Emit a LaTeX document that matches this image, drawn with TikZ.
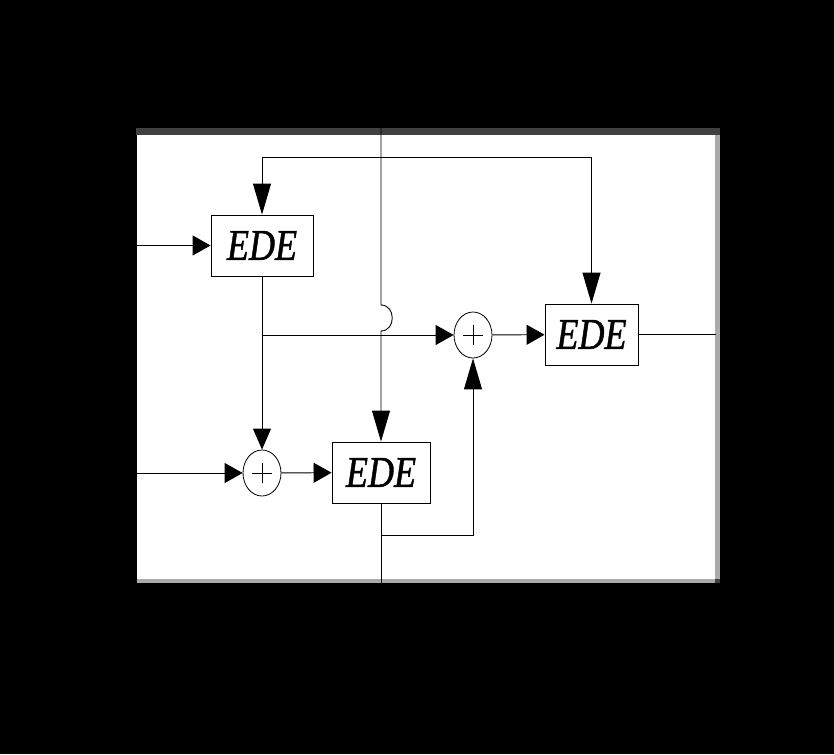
\documentclass[tikz,border=0pt]{standalone}
\usepackage{fontspec}
\newfontfamily\edefont[FakeBold=1.2]{Liberation Serif Italic}
\usetikzlibrary{arrows.meta,shapes.geometric}
\definecolor{topband}{HTML}{404040}
\definecolor{sideband}{HTML}{AAAAAA}
\newcommand{\edetext}{\scalebox{0.82}[1]{\fontsize{44}{44}\edefont EDE}}
\begin{document}
\begin{tikzpicture}[x=1pt,y=-1pt,
  ln/.style={line width=0.9pt},
  vtip/.style={-{Triangle[length=31pt,width=18pt]}},
  htip/.style={-{Triangle[length=18pt,width=20pt]}},
  ede/.style={draw,line width=0.9pt,minimum height=61pt,inner sep=0pt},
  sumnode/.style={draw,ellipse,line width=0.8pt,minimum width=38pt,
    minimum height=46pt,inner sep=0pt},
  plusmark/.style={line width=0.9pt}]
\fill[black] (0,0) rectangle (834,754);
\useasboundingbox (0,0) rectangle (834,754);
\fill[white] (137,135) rectangle (716,579);
\fill[topband] (136,128) rectangle (720,135);
\fill[sideband] (715,135) rectangle (720,583);
\fill[sideband] (137,579) rectangle (720,583);
\fill[topband] (715,579) rectangle (720,583);

\node[ede,minimum width=102pt] (e1) at (262,245.5) {\edetext};
\node[ede,minimum width=98pt] (e2) at (381,472.5) {\edetext};
\node[ede,minimum width=93pt] (e3) at (591.5,334.5) {\edetext};
\node[sumnode] (s1) at (262,473) {};
\node[sumnode] (s2) at (473,335) {};
\draw[plusmark] ([xshift=-10pt]s1.center) -- ([xshift=10pt]s1.center);
\draw[plusmark] ([yshift=-10pt]s1.center) -- ([yshift=10pt]s1.center);
\draw[plusmark] ([xshift=-10pt]s2.center) -- ([xshift=10pt]s2.center);
\draw[plusmark] ([yshift=-10pt]s2.center) -- ([yshift=10pt]s2.center);

\coordinate (in1) at (137,245.5);
\coordinate (in2) at (137,473);
\coordinate (out) at (716,334.5);
\coordinate (topv) at (381,128);
\coordinate (botv) at (381,583);
\coordinate (fbL) at (262,157);
\coordinate (fbR) at (591.5,157);
\coordinate (j1) at (262,335);
\coordinate (j2) at (381,535);
\coordinate (j3) at (473,535);
\coordinate (hopA) at (381,305);
\coordinate (hopB) at (381,331);

\draw[ln,htip] (in1) -- (e1);
\draw[ln,htip] (in2) -- (s1);
\draw[ln,htip] (s1) -- (e2);
\draw[ln,htip] (s2) -- (e3);
\draw[ln] (e3) -- (out);
\draw[ln,{Triangle[length=31pt,width=18pt]}-{Triangle[length=31pt,width=18pt]}]
  (e1.north) -- (fbL) -- (fbR) -- (e3.north);
\draw[ln,-{Triangle[length=21pt,width=18pt]}] (e1) -- (s1);
\draw[ln,htip] (j1) -- (s2);
\draw[ln,vtip] (topv) -- (hopA) .. controls +(15,0) and +(15,0) .. (hopB) -- (e2.north);
\draw[ln] (e2.south) -- (botv);
\draw[ln,vtip] (j2) -- (j3) -- (s2.south);
\end{tikzpicture}
\end{document}
